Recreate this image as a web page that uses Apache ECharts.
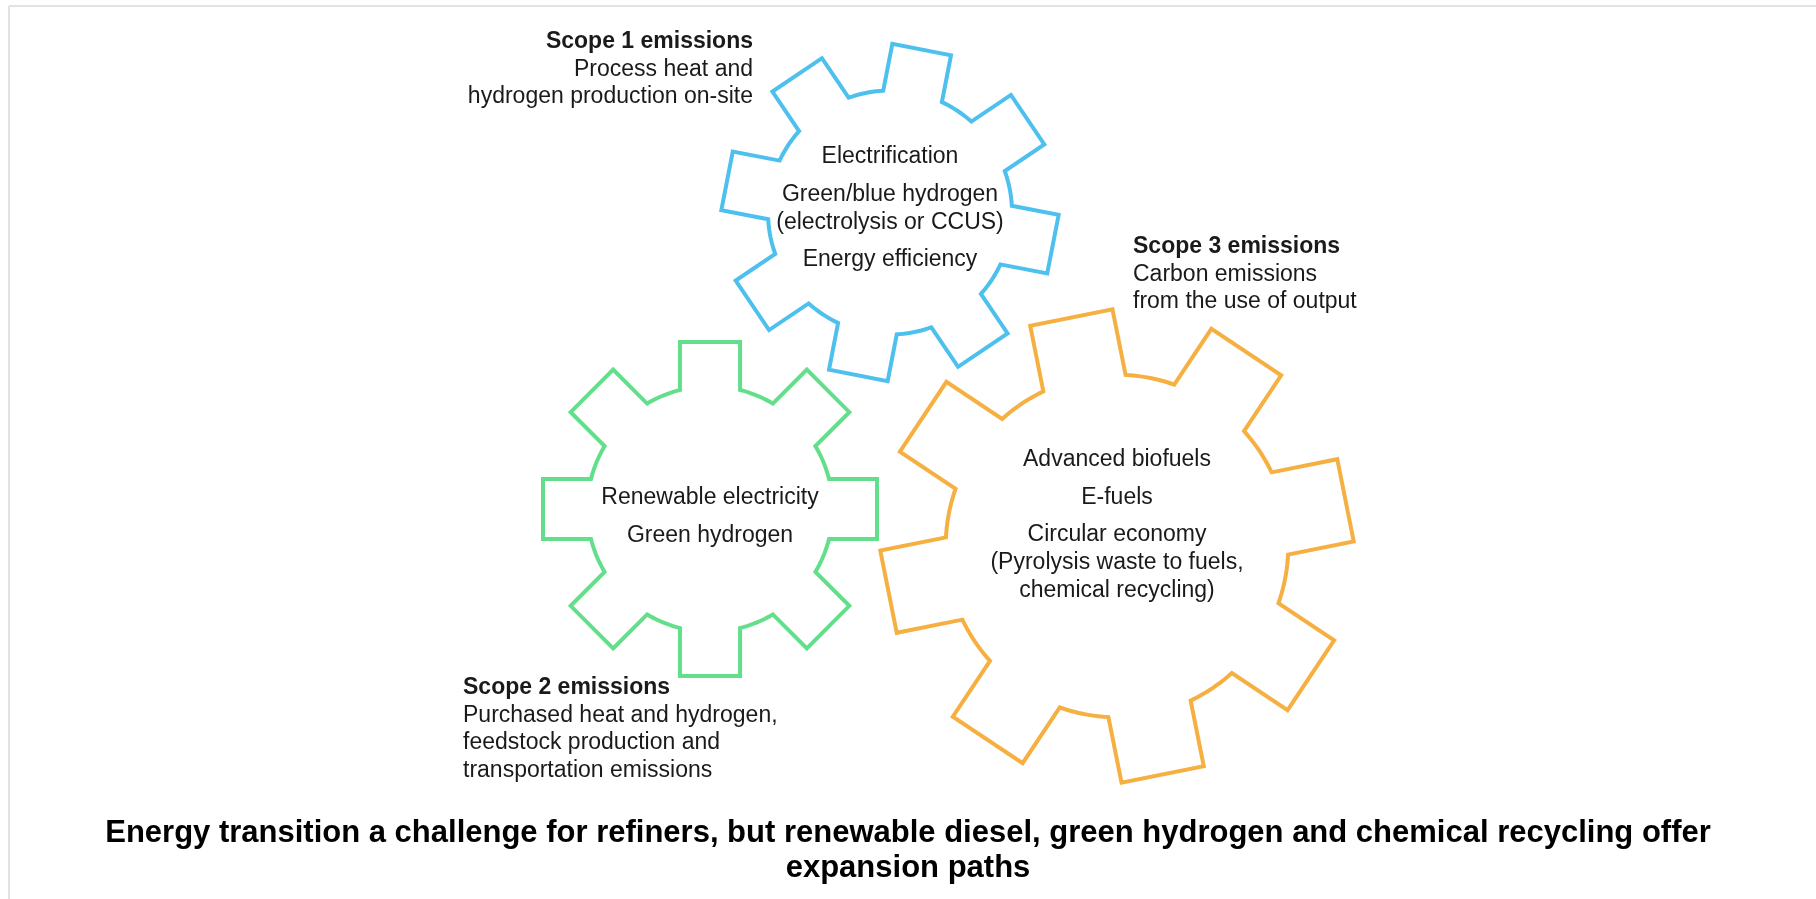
<!DOCTYPE html>
<html>
<head>
<meta charset="utf-8">
<script src="https://cdn.jsdelivr.net/npm/echarts@6/dist/echarts.min.js"></script>
<style>
html, body { margin: 0; padding: 0; background: #fff; }
#main { width: 1816px; height: 899px; }
</style>
</head>
<body>
<div id="main"></div>
<script>
// gears: centre, outer radius, tilt (deg, clockwise), teeth
var gearNames = ['Scope 1', 'Scope 2', 'Scope 3'];
var gearX = [890, 710, 1117];
var gearY = [212.5, 509, 546];
var gearRadius = [166, 167, 233];
var gearTilt = [11, 0, -11.3];
var gearTeeth = [8, 8, 8];
var gearTexts = [
    ['Electrification', 'Green/blue hydrogen\n(electrolysis or CCUS)', 'Energy efficiency'],
    ['Renewable electricity', 'Green hydrogen'],
    ['Advanced biofuels', 'E-fuels', 'Circular economy\n(Pyrolysis waste to fuels,\nchemical recycling)']
];
var gearTextTop = [157, 498, 460];

// scope notes
var noteTitles = ['Scope 1 emissions', 'Scope 2 emissions', 'Scope 3 emissions'];
var noteLines = [
    ['Process heat and', 'hydrogen production on-site'],
    ['Purchased heat and hydrogen,', 'feedstock production and', 'transportation emissions'],
    ['Carbon emissions', 'from the use of output']
];
var noteX = [753, 463, 1133];
var noteY = [42, 688, 247];
var noteAlign = ['right', 'left', 'left'];

var titleText = 'Energy transition a challenge for refiners, but renewable diesel, green hydrogen and chemical recycling offer\nexpansion paths';

var gearColors = ['#4dc0ee', '#63df8c', '#f6b042'];
var fontFamily = "'Liberation Sans', Arial, sans-serif";
var textColor = '#1a1a1a';

var myChart = echarts.init(document.getElementById('main'));

function gearPoints(c, R, tilt, n) {
    var w = R * 0.18, r = R * 0.735, b = Math.sqrt(r * r - w * w);
    var half = Math.atan2(w, b);
    var step = 2 * Math.PI / n;
    var pts = [];
    function rot(x, y, a) {
        return [c[0] + x * Math.cos(a) - y * Math.sin(a), c[1] + x * Math.sin(a) + y * Math.cos(a)];
    }
    for (var k = 0; k < n; k++) {
        var a = tilt + k * step;
        pts.push(rot(-w, -b, a), rot(-w, -R, a), rot(w, -R, a), rot(w, -b, a));
        var a0 = a + half, a1 = a + step - half;
        for (var j = 1; j < 10; j++) {
            var t = a0 + (a1 - a0) * j / 10;
            pts.push([c[0] + r * Math.sin(t), c[1] - r * Math.cos(t)]);
        }
    }
    return pts;
}

function renderGear(params, api) {
    var i = params.dataIndex;
    var c = api.coord([api.value(0), api.value(1)]);
    var R = api.size([api.value(2), 0])[0];
    var tilt = api.value(3) * Math.PI / 180;
    var children = [{
        type: 'polygon',
        shape: { points: gearPoints(c, R, tilt, api.value(4)) },
        style: { fill: 'none', stroke: gearColors[i], lineWidth: 4, lineJoin: 'miter' }
    }];
    var y = api.coord([0, gearTextTop[i]])[1];
    gearTexts[i].forEach(function (para, p) {
        if (p > 0) y += 9.3;
        para.split('\n').forEach(function (line) {
            children.push({
                type: 'text',
                style: {
                    x: c[0], y: y, text: line, align: 'center', verticalAlign: 'middle',
                    fill: textColor, font: '23px ' + fontFamily
                }
            });
            y += 28;
        });
    });
    return { type: 'group', children: children };
}

function renderNote(params, api) {
    var i = params.dataIndex;
    var p = api.coord([api.value(0), api.value(1)]);
    var lines = [noteTitles[i]].concat(noteLines[i]);
    return {
        type: 'group',
        children: lines.map(function (line, k) {
            return {
                type: 'text',
                style: {
                    x: p[0], y: p[1] + k * 27.5, text: line, align: noteAlign[i], verticalAlign: 'middle',
                    fill: textColor,
                    font: (k === 0 ? 'bold ' : '') + '23px ' + fontFamily
                }
            };
        })
    };
}

option = {
    backgroundColor: '#fff',
    animation: false,
    title: {
        text: titleText,
        left: 'center',
        top: 811,
        textStyle: { fontSize: 31, fontWeight: 'bold', lineHeight: 35, color: '#000', fontFamily: fontFamily }
    },
    grid: { left: 0, right: 0, top: 0, bottom: 0 },
    xAxis: { type: 'value', min: 0, max: 1816, show: false },
    yAxis: { type: 'value', min: 0, max: 899, inverse: true, show: false },
    graphic: [
        { type: 'line', shape: { x1: 9, y1: 6, x2: 1816, y2: 6 }, style: { stroke: '#e2e2e2', lineWidth: 2 } },
        { type: 'line', shape: { x1: 9, y1: 6, x2: 9, y2: 899 }, style: { stroke: '#e2e2e2', lineWidth: 2 } }
    ],
    series: [
        {
            type: 'custom',
            name: 'gears',
            renderItem: renderGear,
            clip: false,
            data: gearNames.map(function (n, i) {
                return [gearX[i], gearY[i], gearRadius[i], gearTilt[i], gearTeeth[i]];
            })
        },
        {
            type: 'custom',
            name: 'notes',
            renderItem: renderNote,
            clip: false,
            data: noteTitles.map(function (n, i) { return [noteX[i], noteY[i]]; })
        }
    ]
};

myChart.setOption(option);
</script>
</body>
</html>
